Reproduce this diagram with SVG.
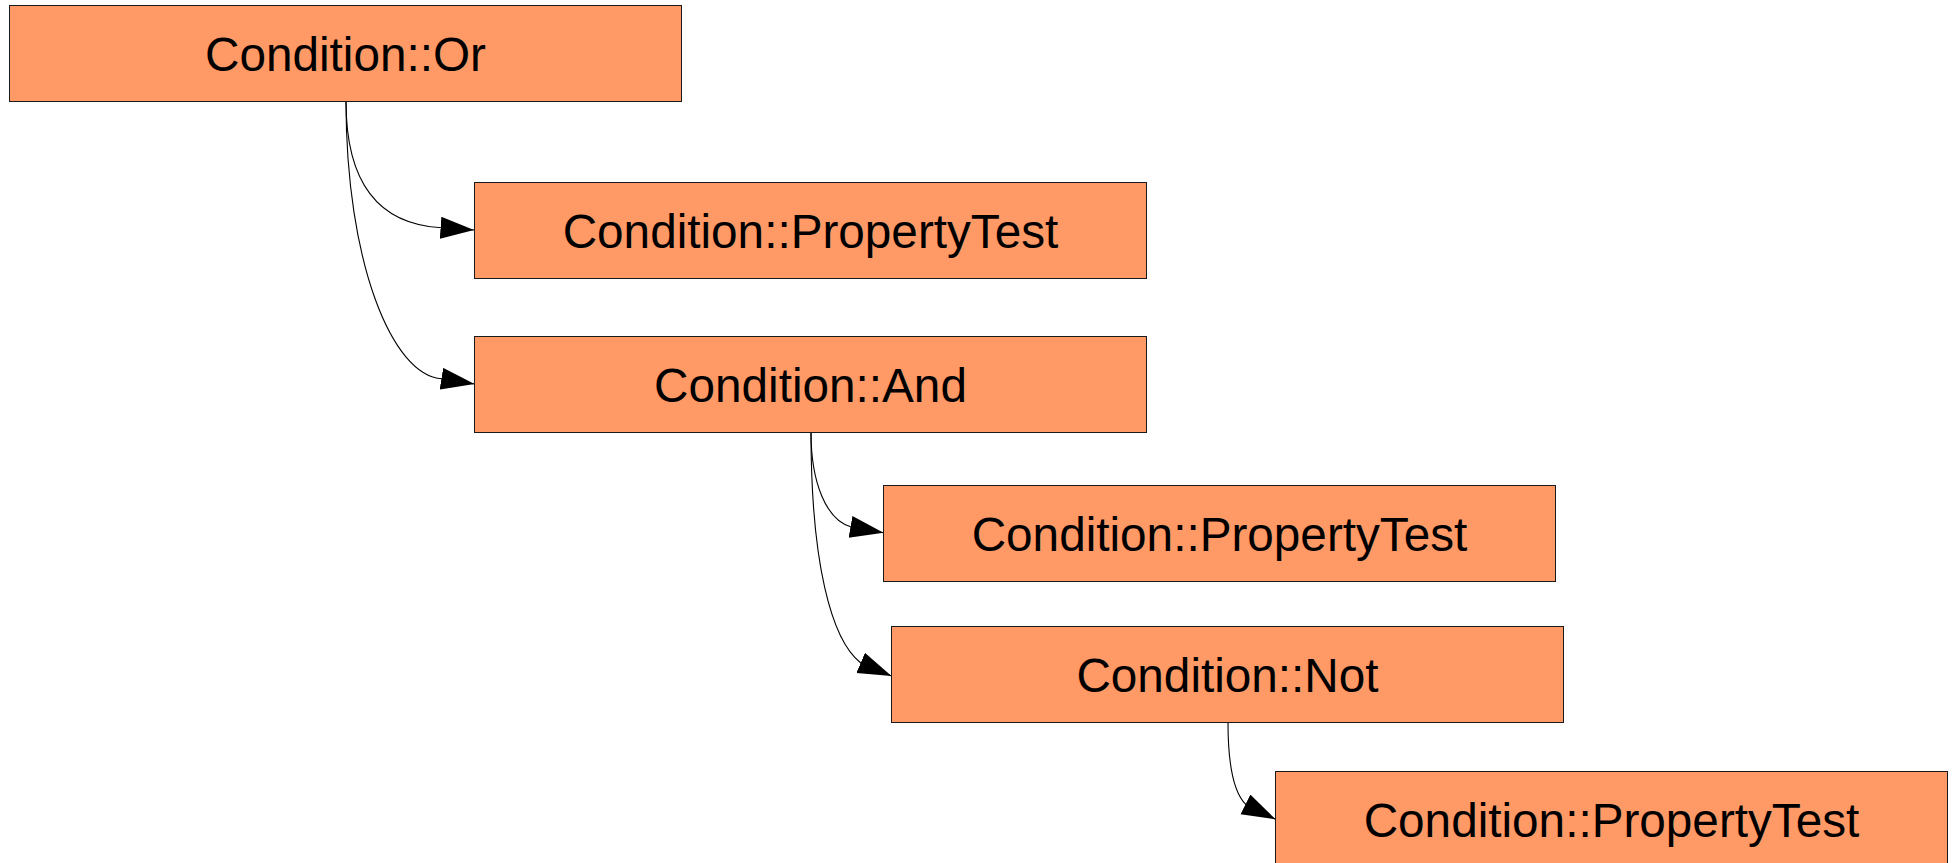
<svg xmlns="http://www.w3.org/2000/svg" width="1956" height="863" viewBox="0 0 1956 863">
  <style>
    .node rect { fill: #ff9966; stroke: #1a1a1a; stroke-width: 1; }
    .node text { font-family: "Liberation Sans", Arial, sans-serif; font-size: 47.7px; fill: #000; text-anchor: middle; }
    .edge { fill: none; stroke: #000; stroke-width: 1.1; marker-end: url(#arrow); }
  </style>
  <defs>
    <marker id="arrow" markerUnits="userSpaceOnUse" markerWidth="35" markerHeight="23" refX="33.5" refY="11" orient="auto">
      <path d="M0,0 L33.5,11 L0,22 z" fill="#000"/>
    </marker>
  </defs>

  <rect width="1956" height="863" fill="#fff"/>

  <!-- connectors -->
  <g id="connectors">
    <path class="edge" d="M346,101.5 C346,172 370,224 441.7,227.8 L474,230"/>
    <path class="edge" d="M346,101.5 C346,262 392,376 442,378.8 L474.5,384"/>
    <path class="edge" d="M811,432.5 C811,482 826,520 851.3,527 L883.5,532.7"/>
    <path class="edge" d="M811,432.5 C811,562 831,640 860.8,663 L891.5,676"/>
    <path class="edge" d="M1228,722.5 C1228,770 1236,795 1246,804.7 L1275.5,819.3"/>
  </g>

  <!-- nodes -->
  <g id="node-or" class="node">
    <rect x="9.5" y="5.5" width="672" height="96"/>
    <text x="345.5" y="70.5">Condition::Or</text>
  </g>
  <g id="node-propertytest-1" class="node">
    <rect x="474.5" y="182.5" width="672" height="96"/>
    <text x="810.5" y="247.5">Condition::PropertyTest</text>
  </g>
  <g id="node-and" class="node">
    <rect x="474.5" y="336.5" width="672" height="96"/>
    <text x="810.5" y="401.5">Condition::And</text>
  </g>
  <g id="node-propertytest-2" class="node">
    <rect x="883.5" y="485.5" width="672" height="96"/>
    <text x="1219.5" y="550.5">Condition::PropertyTest</text>
  </g>
  <g id="node-not" class="node">
    <rect x="891.5" y="626.5" width="672" height="96"/>
    <text x="1227.5" y="691.5">Condition::Not</text>
  </g>
  <g id="node-propertytest-3" class="node">
    <rect x="1275.5" y="771.5" width="672" height="96"/>
    <text x="1611.5" y="836.5">Condition::PropertyTest</text>
  </g>
</svg>
